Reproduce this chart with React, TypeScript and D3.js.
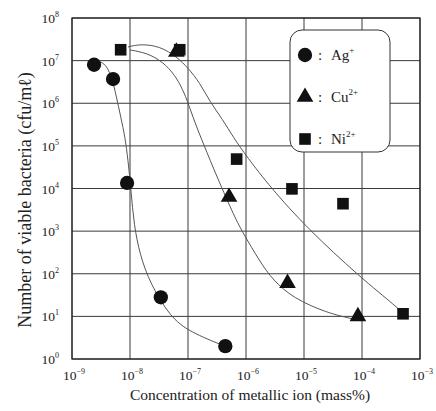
import React from 'react';
import * as d3 from 'd3';

const W = 436;
const H = 411;
const plot = { left: 72, right: 420, top: 18, bottom: 359 };

// decade exponents for the ticks
const xTickExp = [-9, -8, -7, -6, -5, -4, -3];
const yTickExp = [0, 1, 2, 3, 4, 5, 6, 7, 8];

// measured points (concentration in mass%, count in cfu/ml)
const agConc = [2.4e-9, 5.1e-9, 8.9e-9, 3.4e-8, 4.4e-7];
const agCount = [8.0e6, 3.7e6, 1.35e4, 28, 2.0];
const cuConc = [6.3e-8, 5.1e-7, 5.2e-6, 8.5e-5];
const cuCount = [1.6e7, 6.3e3, 60, 10];
const niConc = [6.9e-9, 7.2e-8, 6.9e-7, 6.2e-6, 4.7e-5, 5.1e-4];
const niCount = [1.8e7, 1.8e7, 4.9e4, 9.8e3, 4.4e3, 11.5];

// fitted curves, as [log10 conc, log10 count]
const agCurve = [
  [-8.6, 6.97], [-8.5, 6.98], [-8.4, 6.87], [-8.31, 6.59], [-8.24, 6.19],
  [-8.155, 5.65], [-8.086, 5.21], [-8.034, 4.67], [-7.983, 3.96], [-7.931, 3.14],
  [-7.828, 2.44], [-7.655, 1.78], [-7.31, 0.99], [-6.966, 0.63], [-6.36, 0.3],
];
const cuCurve = [
  [-8.0, 7.25], [-7.707, 7.18], [-7.431, 6.97], [-7.224, 6.66], [-7.086, 6.31],
  [-7.0, 6.01], [-6.879, 5.54], [-6.741, 5.07], [-6.5, 4.27], [-6.19, 3.31],
  [-6.052, 2.96], [-5.759, 2.28], [-5.534, 1.85], [-5.19, 1.43], [-4.603, 1.08],
  [-4.155, 0.94],
];
const niCurve = [
  [-8.034, 7.32], [-7.828, 7.39], [-7.483, 7.34], [-7.19, 7.085], [-7.0, 6.83],
  [-6.793, 6.475], [-6.621, 6.03], [-6.397, 5.61], [-6.224, 5.21], [-5.983, 4.74],
  [-5.586, 4.04], [-4.948, 3.07], [-4.034, 1.92], [-3.379, 1.2], [-3.293, 1.06],
];

const legendItems = [
  { shape: 'circle', ion: 'Ag', charge: '+' },
  { shape: 'triangle', ion: 'Cu', charge: '2+' },
  { shape: 'square', ion: 'Ni', charge: '2+' },
];

const font = '"Liberation Serif", "DejaVu Serif", serif';

const x = d3.scaleLog().domain([1e-9, 1e-3]).range([plot.left, plot.right]);
const y = d3.scaleLog().domain([1, 1e8]).range([plot.bottom, plot.top]);

const curveLine = d3
  .line<number[]>()
  .x((d) => x(Math.pow(10, d[0])))
  .y((d) => y(Math.pow(10, d[1])))
  .curve(d3.curveBasis);

const sym = (shape: string, size: number) => {
  const type =
    shape === 'circle' ? d3.symbolCircle : shape === 'triangle' ? d3.symbolTriangle : d3.symbolSquare;
  return d3.symbol().type(type).size(size)() as string;
};

const Marker = ({ shape, cx, cy }: { shape: string; cx: number; cy: number }) => {
  const size = shape === 'circle' ? 160 : shape === 'triangle' ? 120 : 135;
  return <path d={sym(shape, size)} transform={`translate(${cx},${cy})`} fill="#111" />;
};

export default function App() {
  const gridColor = '#3a3a3a';
  const curveColor = '#555';

  return (
    <div style={{ position: 'absolute', left: 0, top: 0 }}>
      <svg width={W} height={H} style={{ display: 'block', background: '#fff' }}>
        {/* grid */}
        {xTickExp.map((e) => (
          <line key={'gx' + e} x1={x(Math.pow(10, e))} x2={x(Math.pow(10, e))} y1={plot.top} y2={plot.bottom}
            stroke={gridColor} strokeWidth={1} />
        ))}
        {yTickExp.map((e) => (
          <line key={'gy' + e} x1={plot.left} x2={plot.right} y1={y(Math.pow(10, e))} y2={y(Math.pow(10, e))}
            stroke={gridColor} strokeWidth={1} />
        ))}
        <rect x={plot.left} y={plot.top} width={plot.right - plot.left} height={plot.bottom - plot.top}
          fill="none" stroke="#222" strokeWidth={1.2} />

        {/* y tick labels */}
        {yTickExp.map((e) => (
          <text key={'ty' + e} x={plot.left - 13} y={y(Math.pow(10, e)) + 5} fontFamily={font} fontSize={13.5}
            textAnchor="end" fill="#222">
            10
            <tspan fontSize={8} dy={-6}>{e}</tspan>
          </text>
        ))}
        {/* x tick labels */}
        {xTickExp.map((e) => (
          <text key={'tx' + e} x={x(Math.pow(10, e)) + 2} y={380} fontFamily={font} fontSize={13.5}
            textAnchor="middle" fill="#222">
            10
            <tspan fontSize={8} dy={-6}>{'\u2212' + Math.abs(e)}</tspan>
          </text>
        ))}

        {/* curves */}
        <path d={curveLine(agCurve) as string} fill="none" stroke={curveColor} strokeWidth={1} />
        <path d={curveLine(cuCurve) as string} fill="none" stroke={curveColor} strokeWidth={1} />
        <path d={curveLine(niCurve) as string} fill="none" stroke={curveColor} strokeWidth={1} />

        {/* points */}
        {agConc.map((c, i) => (
          <Marker key={'ag' + i} shape="circle" cx={x(c)} cy={y(agCount[i])} />
        ))}
        {cuConc.map((c, i) => (
          <Marker key={'cu' + i} shape="triangle" cx={x(c)} cy={y(cuCount[i])} />
        ))}
        {niConc.map((c, i) => (
          <Marker key={'ni' + i} shape="square" cx={x(c)} cy={y(niCount[i])} />
        ))}

        {/* legend */}
        <rect x={290} y={30} width={100} height={122} rx={12} ry={12} fill="#fff" stroke="#333" strokeWidth={1} />
        {legendItems.map((it, i) => {
          const cy = 55 + i * 42;
          return (
            <g key={it.ion}>
              <Marker shape={it.shape} cx={305} cy={cy} />
              <text x={318} y={cy + 5} fontFamily={font} fontSize={15} fill="#222">
                :
              </text>
              <text x={331} y={cy + 5} fontFamily={font} fontSize={15} fill="#222">
                {it.ion}
                <tspan fontSize={9} dy={-7}>{it.charge}</tspan>
              </text>
            </g>
          );
        })}

        {/* axis titles */}
        <text x={250} y={400} fontFamily={font} fontSize={15.5} textAnchor="middle" fill="#222">
          Concentration of metallic ion (mass%)
        </text>
        <text transform={`translate(31,${200}) rotate(-90)`} fontFamily={font} fontSize={18} textAnchor="middle"
          fill="#222">
          Number of viable bacteria (cfu/m{'\u2113'})
        </text>
      </svg>
    </div>
  );
}
